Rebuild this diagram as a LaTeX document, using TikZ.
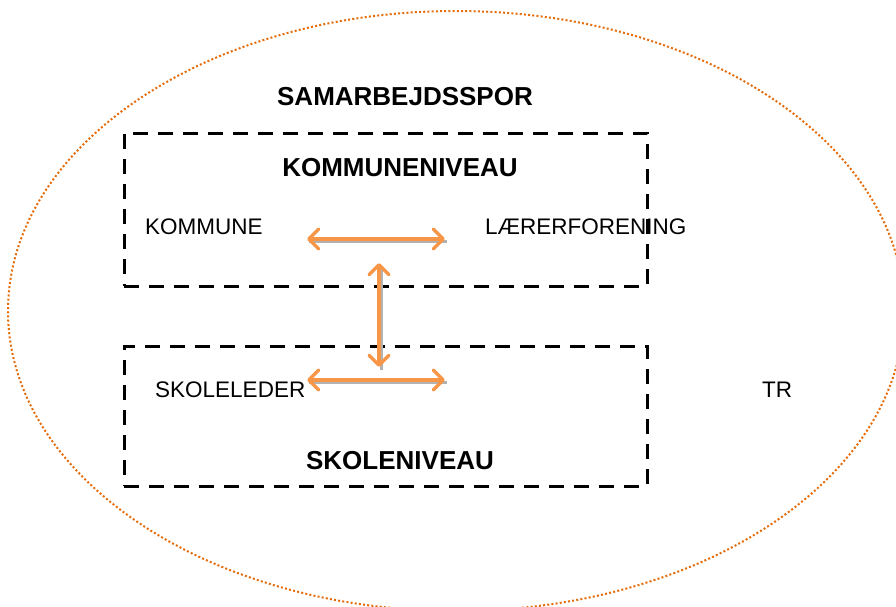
\documentclass[tikz,border=0pt]{standalone}
\usepackage{fontspec}
\setmainfont{Liberation Sans}
\usetikzlibrary{arrows.meta}
\definecolor{linkorange}{RGB}{247,150,70}
\definecolor{rimorange}{RGB}{228,108,10}
\begin{document}
\begin{tikzpicture}[x=1pt,y=-1pt,
    levelbox/.style={draw, line width=3pt, dash pattern=on 15pt off 10pt, minimum width=523pt, inner sep=0pt},
    heading/.style={font=\fontsize{26}{30}\selectfont\bfseries, inner sep=0pt},
    party/.style={font=\fontsize{22.5}{26}\selectfont, inner sep=0pt, anchor=west},
    link/.style={draw=linkorange, line width=3.5pt,
        {Straight Barb[length=10pt,width=20pt,line width=3.5pt,round]}-{Straight Barb[length=10pt,width=20pt,line width=3.5pt,round]},
        preaction={draw=gray!60, line width=3pt, -, transform canvas={shift={(2pt,-2.5pt)}}}}]
    \useasboundingbox (0,0) rectangle (896,606);
    \clip (0,0) rectangle (896,606);

    \draw[rimorange, line width=2pt, dash pattern=on 2pt off 2.2pt] (456,311) ellipse [x radius=448, y radius=300];

    \node[levelbox, minimum height=153pt] (kommunebox) at (385.5,209.5) {};
    \node[levelbox, minimum height=140pt] (skolebox) at (385.5,416) {};

    \node[heading] (samarbejd) at (405,97) {SAMARBEJDSSPOR};
    \node[heading] (kommuneniveau) at (400,168) {KOMMUNENIVEAU};
    \node[heading] (skoleniveau) at (400,461) {SKOLENIVEAU};

    \node[party] (kommune) at (145,227) {KOMMUNE};
    \node[party] (laerer) at (485,227) {LÆRERFORENING};
    \node[party] (skoleleder) at (155,390) {SKOLELEDER};
    \node[party] (tr) at (762,390) {TR};

    \coordinate (kl) at (307,239);
    \coordinate (kr) at (445,239);
    \coordinate (vt) at (379,263);
    \coordinate (vb) at (379,367);
    \coordinate (sl) at (307,380);
    \coordinate (sr) at (445,380);

    \draw[link] (kl) -- (kr);
    \draw[link] (vt) -- (vb);
    \draw[link] (sl) -- (sr);
\end{tikzpicture}
\end{document}
